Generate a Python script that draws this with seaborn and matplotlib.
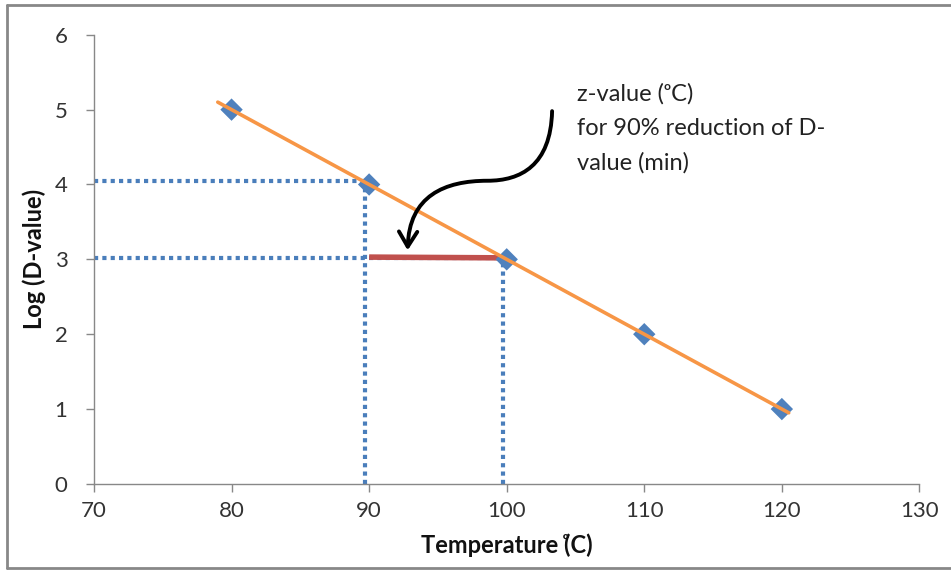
import matplotlib
matplotlib.use('Agg')
import matplotlib.pyplot as plt
import seaborn as sns
import pandas as pd
from matplotlib.path import Path
from matplotlib.patches import FancyArrowPatch
from matplotlib.lines import Line2D

# Данные
temperature = [80, 90, 100, 110, 120]
log_d = [5, 4, 3, 2, 1]

# Линия тренда (оранжевая)
trend_x = [79, 120.5]
trend_y = [5.1, 0.95]

# Пунктирные направляющие
guide_h_x = [[70, 89.7], [70, 99.7]]
guide_h_y = [[4.05, 4.05], [3.02, 3.02]]
guide_v_x = [[89.7, 89.7], [99.7, 99.7]]
guide_v_y = [[0, 4.05], [0, 3.02]]

# z-value (красная линия)
z_x = [90, 99.8]
z_y = [3.03, 3.02]

sns.set_style('white')
plt.rcParams['font.family'] = ['Lato', 'DejaVu Sans']

fig = plt.figure(figsize=(9.51, 5.70), dpi=100)
ax = fig.add_axes([0.0988, 0.151, 0.868, 0.788])

df = pd.DataFrame({'Temperature': temperature, 'LogD': log_d})

for hx, hy in zip(guide_h_x, guide_h_y):
    ax.plot(hx, hy, color='#4a7ebb', lw=3, ls=(0, (1, 1)), zorder=2, clip_on=False)
for vx, vy in zip(guide_v_x, guide_v_y):
    ax.plot(vx, vy, color='#4a7ebb', lw=3, ls=(0, (1, 1)), zorder=2, clip_on=False)

ax.plot(z_x, z_y, color='#c0504d', lw=4, zorder=3, solid_capstyle='butt')

sns.scatterplot(data=df, x='Temperature', y='LogD', marker='D', s=130,
                color='#4f81bd', edgecolor='none', ax=ax, zorder=4)
sns.lineplot(x=trend_x, y=trend_y, color='#f79646', lw=2.6, ax=ax, zorder=5)

# Изогнутая стрелка
verts = [(103.3, 4.98), (103.2, 4.25), (101.0, 4.05), (98.6, 4.05),
         (95.5, 4.05), (92.9, 3.85), (92.8, 3.12)]
codes = [Path.MOVETO, Path.CURVE4, Path.CURVE4, Path.CURVE4,
         Path.CURVE4, Path.CURVE4, Path.CURVE4]
arrow = FancyArrowPatch(path=Path(verts, codes), arrowstyle='->,head_length=0.9,head_width=0.55',
                        mutation_scale=12, color='black', lw=2.8, zorder=6)
ax.add_patch(arrow)

ax.text(105.1, 4.75, 'z-value (ᵒC)\nfor 90% reduction of D-\nvalue (min)',
        fontsize=17, color='#222222', va='center', ha='left', linespacing=1.75)

ax.set_xlim(70, 130)
ax.set_ylim(0, 6)
ax.set_xticks(range(70, 131, 10))
ax.set_yticks(range(0, 7))
ax.tick_params(axis='both', labelsize=16, colors='#888888', labelcolor='#333333',
               direction='out', length=6, width=1, left=True, bottom=True, pad=6)
ax.tick_params(axis='y', pad=13)
for side in ['top', 'right']:
    ax.spines[side].set_visible(False)
for side in ['left', 'bottom']:
    ax.spines[side].set_color('#888888')
    ax.spines[side].set_linewidth(1)

ax.set_xlabel('Temperature (̊C)', fontsize=17, fontweight='bold', labelpad=9, color='#111111')
ax.set_ylabel('Log (D-value)', fontsize=17, fontweight='bold', color='#111111')
ax.yaxis.set_label_coords(-0.058, 0.5)

# Рамка вокруг рисунка
for xs, ys in [([0.007, 1.0], [0.991, 0.991]), ([0.007, 0.007], [0.003, 0.991]),
               ([0.007, 1.0], [0.003, 0.003])]:
    fig.add_artist(Line2D(xs, ys, color='#888888', lw=2, transform=fig.transFigure))

plt.savefig('out.png', dpi=100)
